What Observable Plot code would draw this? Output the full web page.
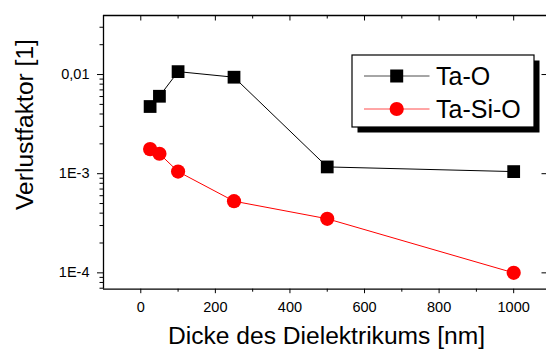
<!DOCTYPE html>
<html>
<head>
<meta charset="utf-8">
<script src="https://cdn.jsdelivr.net/npm/d3@7"></script>
<script src="https://cdn.jsdelivr.net/npm/@observablehq/plot@0.6"></script>
<style>
  html, body { margin: 0; padding: 0; background: white; }
  #chart { position: relative; width: 546px; height: 351px; }
  #overlay { position: absolute; left: 0; top: 0; pointer-events: none; }
</style>
</head>
<body>
<div id="chart"></div>
<script>
// Dielectric thickness in nm
const thickness = [25, 50, 100, 250, 500, 1000];
// Loss factor for each material
const lossTaO = [0.00476, 0.00604, 0.0107, 0.0094, 0.00117, 0.00105];
const lossTaSiO = [0.00177, 0.00159, 0.00105, 0.000528, 0.000351, 0.0001];
const seriesNames = ["Ta-O", "Ta-Si-O"];
const seriesColors = ["black", "#ff0000"];

// Axis ticks
const xTicks = [0, 200, 400, 600, 800, 1000];
const xMinorTicks = [100, 300, 500, 700, 900];
const yTicks = [1e-4, 1e-3, 1e-2];
const yTickLabels = ["1E-4", "1E-3", "0,01"];
const yMinorTicks = [7e-5, 8e-5, 9e-5,
  2e-4, 3e-4, 4e-4, 5e-4, 6e-4, 7e-4, 8e-4, 9e-4,
  2e-3, 3e-3, 4e-3, 5e-3, 6e-3, 7e-3, 8e-3, 9e-3,
  2e-2, 3e-2];
const xTitle = "Dicke des Dielektrikums [nm]";
const yTitle = "Verlustfaktor [1]";

const xDomain = [-100, 1088];
const yDomain = [6.84e-5, 0.0394];

const W = 546, H = 351;
const mL = 103, mR = 0, mT = 15, mB = 62.3;
const FW = W - mL - mR, FH = H - mT - mB;

const rowsTaO = thickness.map((t, i) => ({t, v: lossTaO[i]}));
const rowsTaSiO = thickness.map((t, i) => ({t, v: lossTaSiO[i]}));
const yLabelOf = new Map(yTicks.map((v, i) => [v, yTickLabels[i]]));

const plot = Plot.plot({
  width: W, height: H,
  marginLeft: mL, marginRight: mR, marginTop: mT, marginBottom: mB,
  style: {fontFamily: "'Liberation Sans', Arial, sans-serif", fontSize: "14.5px", background: "white", color: "black", overflow: "hidden"},
  x: {domain: xDomain, axis: null},
  y: {type: "log", domain: yDomain, axis: null},
  marks: [
    // frame (left, bottom, top)
    Plot.ruleX([xDomain[0]], {stroke: "black", strokeWidth: 1.3}),
    Plot.ruleY([yDomain[0]], {stroke: "black", strokeWidth: 1.3}),
    Plot.ruleY([yDomain[1]], {stroke: "black", strokeWidth: 1.3}),

    // bottom axis
    Plot.axisX(xTicks, {anchor: "bottom", label: null, tickSize: 4.5, tickPadding: 8.2, tickFormat: d => String(d), fontSize: 14.5}),
    Plot.axisX(xMinorTicks, {anchor: "bottom", label: null, tickSize: 3, tickFormat: () => ""}),
    // top axis, ticks pointing in
    Plot.tickX(xTicks, {x: d => d, insetBottom: FH - 5.5, stroke: "black"}),
    Plot.tickX(xMinorTicks, {x: d => d, insetBottom: FH - 3.5, stroke: "black"}),

    // left axis
    Plot.axisY(yTicks, {anchor: "left", label: null, tickSize: 6, tickPadding: 8, tickFormat: d => yLabelOf.get(d), fontSize: 14.5}),
    Plot.axisY(yMinorTicks, {anchor: "left", label: null, tickSize: 3.5, tickFormat: () => ""}),
    // right axis, ticks pointing in
    Plot.tickY(yTicks, {y: d => d, insetLeft: FW - 4.5, stroke: "black"}),

    // series
    Plot.line(rowsTaO, {x: "t", y: "v", stroke: seriesColors[0], strokeWidth: 1}),
    Plot.line(rowsTaSiO, {x: "t", y: "v", stroke: seriesColors[1], strokeWidth: 1}),
    Plot.dot(rowsTaO, {x: "t", y: "v", symbol: "square", r: 7.2, fill: seriesColors[0], stroke: "none"}),
    Plot.dot(rowsTaSiO, {x: "t", y: "v", symbol: "circle", r: 7.1, fill: seriesColors[1], stroke: "none"})
  ]
});

const chart = document.getElementById("chart");
chart.appendChild(plot);

// Axis titles and legend drawn on an overlay layer
const overlay = d3.select(chart).append("svg")
  .attr("id", "overlay")
  .attr("width", W).attr("height", H)
  .style("font-family", "'Liberation Sans', Arial, sans-serif");

overlay.append("text")
  .attr("x", 326.5).attr("y", 344)
  .attr("text-anchor", "middle")
  .attr("font-size", 24.6).attr("fill", "black")
  .text(xTitle);

overlay.append("text")
  .attr("transform", "translate(33,124.5) rotate(-90)")
  .attr("text-anchor", "middle")
  .attr("font-size", 24.6).attr("fill", "black")
  .text(yTitle);

// Legend box with drop shadow
const box = {x: 352, y: 55, w: 182, h: 72, shadow: 5.5};
overlay.append("rect")
  .attr("x", box.x + box.shadow).attr("y", box.y + box.shadow)
  .attr("width", box.w).attr("height", box.h)
  .attr("fill", "black");
overlay.append("rect")
  .attr("x", box.x).attr("y", box.y)
  .attr("width", box.w).attr("height", box.h)
  .attr("fill", "white").attr("stroke", "black").attr("stroke-width", 1.2);

const rowY = [76, 109];
seriesNames.forEach((name, i) => {
  const g = overlay.append("g");
  g.append("line")
    .attr("x1", 364).attr("x2", 429.5)
    .attr("y1", rowY[i]).attr("y2", rowY[i])
    .attr("stroke", seriesColors[i]).attr("stroke-width", 1)
    .attr("stroke-opacity", 0.7);
  if (i === 0) {
    g.append("rect")
      .attr("x", 396.7 - 6.5).attr("y", rowY[i] - 6.5)
      .attr("width", 13).attr("height", 13)
      .attr("fill", seriesColors[i]);
  } else {
    g.append("circle")
      .attr("cx", 396.7).attr("cy", rowY[i]).attr("r", 7.1)
      .attr("fill", seriesColors[i]);
  }
  g.append("text")
    .attr("x", 436).attr("y", rowY[i]).attr("dy", "0.36em")
    .attr("font-size", 25).attr("fill", "black")
    .text(name);
});
</script>
</body>
</html>
